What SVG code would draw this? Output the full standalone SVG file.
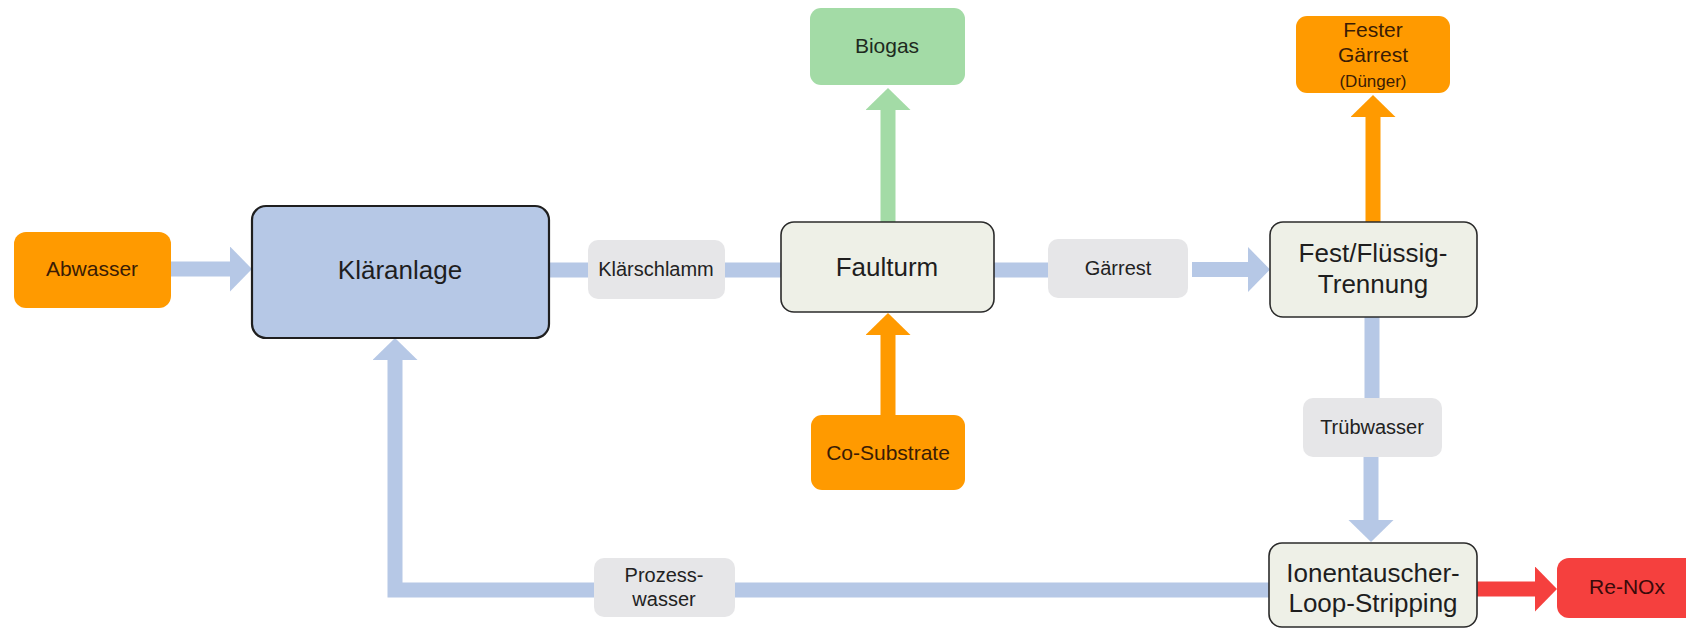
<svg xmlns="http://www.w3.org/2000/svg" width="1686" height="630" viewBox="0 0 1686 630">
<style>
text{font-family:"Liberation Sans",Arial,Helvetica,sans-serif;text-anchor:middle;}
.main{fill:#eef0e7;stroke:#2b2b2b;stroke-width:1.6;}
.lab{fill:#e6e6e8;}
.org{fill:#ff9a00;}
.t-main{font-size:26px;fill:#1e1e1e;}
.t-lab{font-size:20px;fill:#222;}
.t-org{font-size:21px;fill:#3a1c05;}
.c-blue{stroke:#b6c8e6;stroke-width:15;fill:none;}
.c-green{stroke:#a3dba6;stroke-width:15;fill:none;}
.c-orange{stroke:#ff9a00;stroke-width:15;fill:none;}
.c-red{stroke:#f5403e;stroke-width:15;fill:none;}
</style>
<defs>
<marker id="hb" markerUnits="userSpaceOnUse" markerWidth="23" markerHeight="46" refX="0" refY="22.5" orient="auto"><path d="M0,0 L22,22.5 L0,45 z" fill="#b6c8e6"/></marker>
<marker id="hg" markerUnits="userSpaceOnUse" markerWidth="23" markerHeight="46" refX="0" refY="22.5" orient="auto"><path d="M0,0 L22,22.5 L0,45 z" fill="#a3dba6"/></marker>
<marker id="ho" markerUnits="userSpaceOnUse" markerWidth="23" markerHeight="46" refX="0" refY="22.5" orient="auto"><path d="M0,0 L22,22.5 L0,45 z" fill="#ff9a00"/></marker>
<marker id="hr" markerUnits="userSpaceOnUse" markerWidth="23" markerHeight="46" refX="0" refY="22.5" orient="auto"><path d="M0,0 L22,22.5 L0,45 z" fill="#f5403e"/></marker>
</defs>
<rect width="1686" height="630" fill="#ffffff"/>
<g id="connectors">
<path class="c-blue" d="M171,269 H230" marker-end="url(#hb)"/>
<path class="c-blue" d="M549,270 H589"/>
<path class="c-blue" d="M725,270 H782"/>
<path class="c-blue" d="M994,270 H1049"/>
<path class="c-blue" d="M1192,269.5 H1248" marker-end="url(#hb)"/>
<path class="c-green" d="M888,223 V110" marker-end="url(#hg)"/>
<path class="c-orange" d="M888,415 V335" marker-end="url(#ho)"/>
<path class="c-orange" d="M1373,223 V117" marker-end="url(#ho)"/>
<path class="c-blue" d="M1372,317 V399"/>
<path class="c-blue" d="M1371,457 V520" marker-end="url(#hb)"/>
<path class="c-red" d="M1477,589 H1535" marker-end="url(#hr)"/>
<path class="c-blue" d="M1270,590 H734"/>
<path class="c-blue" d="M595,590 H395 V360" marker-end="url(#hb)"/>
</g>
<g id="abwasser"><rect class="org" x="14" y="232" width="157" height="76" rx="12"/><text class="t-org" x="92" y="276">Abwasser</text></g>
<g id="klaeranlage"><rect x="252" y="206" width="297" height="132" rx="14" fill="#b6c8e6" stroke="#1f1f1f" stroke-width="2.2"/><text class="t-main" x="400" y="279">Kläranlage</text></g>
<g id="klaerschlamm"><rect class="lab" x="588" y="240" width="137" height="59" rx="10"/><text class="t-lab" x="656" y="276">Klärschlamm</text></g>
<g id="faulturm"><rect class="main" x="781" y="222" width="213" height="90" rx="13"/><text class="t-main" x="887" y="276">Faulturm</text></g>
<g id="biogas"><rect x="810" y="8" width="155" height="77" rx="11" fill="#a3dba6"/><text class="t-org" x="887" y="53" fill="#1e2a1e" style="fill:#1e2a1e">Biogas</text></g>
<g id="cosubstrate"><rect class="org" x="811" y="415" width="154" height="75" rx="11"/><text class="t-org" x="888" y="460">Co-Substrate</text></g>
<g id="gaerrest"><rect class="lab" x="1048" y="239" width="140" height="59" rx="10"/><text class="t-lab" x="1118" y="275">Gärrest</text></g>
<g id="festfluessig"><rect class="main" x="1270" y="222" width="207" height="95" rx="13"/><text class="t-main" x="1373" y="262">Fest/Flüssig-</text><text class="t-main" x="1373" y="293">Trennung</text></g>
<g id="festergaerrest"><rect class="org" x="1296" y="16" width="154" height="77" rx="11"/><text class="t-org" x="1373" y="37">Fester</text><text class="t-org" x="1373" y="62">Gärrest</text><text class="t-org" x="1373" y="87" style="font-size:17px">(Dünger)</text></g>
<g id="truebwasser"><rect class="lab" x="1303" y="398" width="139" height="59" rx="10"/><text class="t-lab" x="1372" y="434">Trübwasser</text></g>
<g id="ionentauscher"><rect class="main" x="1269" y="543" width="208" height="84" rx="13"/><text class="t-main" x="1373" y="582">Ionentauscher-</text><text class="t-main" x="1373" y="612">Loop-Stripping</text></g>
<g id="renox"><rect x="1557" y="558" width="150" height="60" rx="12" fill="#f5403e"/><text class="t-org" x="1627" y="594" style="fill:#3a0a0a">Re-NOx</text></g>
<g id="prozesswasser"><rect class="lab" x="594" y="558" width="141" height="59" rx="10"/><text class="t-lab" x="664" y="582">Prozess-</text><text class="t-lab" x="664" y="606">wasser</text></g>
</svg>
